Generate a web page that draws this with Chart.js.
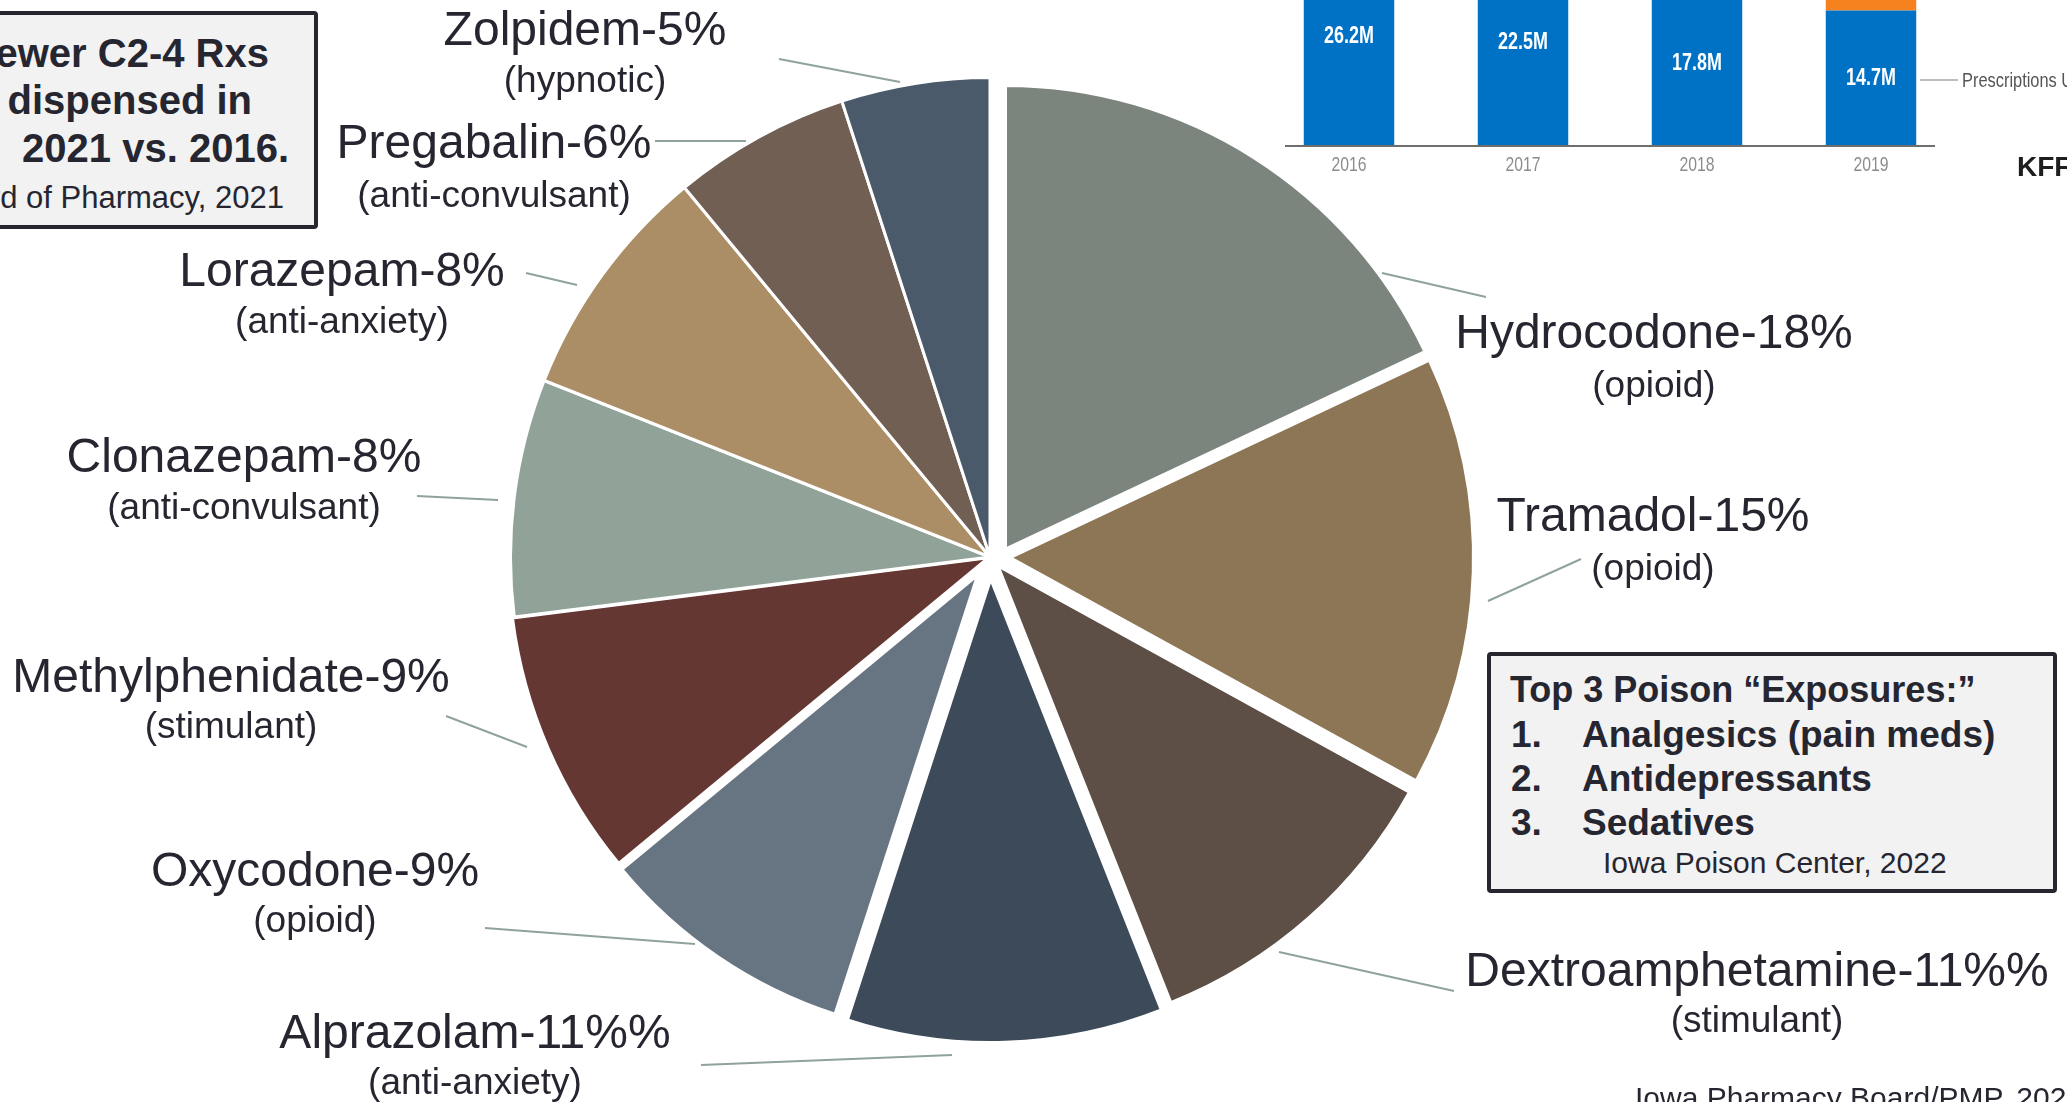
<!DOCTYPE html>
<html>
<head>
<meta charset="utf-8">
<script src="https://cdn.jsdelivr.net/npm/chart.js@4.4.1/dist/chart.umd.min.js"></script>
<style>
  html, body { margin: 0; padding: 0; }
  body {
    width: 2067px; height: 1102px; overflow: hidden; position: relative;
    background: #ffffff; color: #262631;
    font-family: "Liberation Sans", Arial, sans-serif;
  }
  .abs { position: absolute; white-space: nowrap; line-height: 1; }
  #pieWrap { position: absolute; left: 0; top: 0; width: 2067px; height: 1102px; }
  #barWrap { position: absolute; left: 1262px; top: -72px; width: 696px; height: 258px; }
  .pname { font-size: 48px; transform: translateX(-50%); }
  .psub { font-size: 37px; transform: translateX(-50%); }
  .box {
    position: absolute; box-sizing: border-box; background: #f2f2f2;
    border: 4px solid #26262e; border-radius: 4px;
  }
  .b40 { font-size: 40px; font-weight: bold; }
  .b37 { font-size: 37px; font-weight: bold; }
  .cond { transform: scaleX(0.82); transform-origin: left center; }
</style>
</head>
<body>

<div id="pieWrap"><canvas id="pie"></canvas></div>
<div id="barWrap"><canvas id="bars"></canvas></div>

<!-- left note box (cut by the page edge) -->
<div class="box" style="left:-200px; top:11px; width:518px; height:218px;">
  <div class="abs b40" style="right:45px; top:18px;">Fewer C2-4 Rxs</div>
  <div class="abs b40" style="right:62px; top:65px;">dispensed in</div>
  <div class="abs b40" style="right:25px; top:113px;">2021 vs. 2016.</div>
  <div class="abs" style="right:30px; top:167px; font-size:31px;">Iowa Board of Pharmacy, 2021</div>
</div>

<!-- poison box -->
<div class="box" style="left:1487px; top:652px; width:570px; height:241px;">
  <div class="abs" style="left:19px; top:16px; font-size:36px; font-weight:bold;">Top 3 Poison “Exposures:”</div>
  <div class="abs b37" style="left:20px; top:60px;">1.</div>
  <div class="abs b37" style="left:91px; top:60px;">Analgesics (pain meds)</div>
  <div class="abs b37" style="left:20px; top:104px;">2.</div>
  <div class="abs b37" style="left:91px; top:104px;">Antidepressants</div>
  <div class="abs b37" style="left:20px; top:148px;">3.</div>
  <div class="abs b37" style="left:91px; top:148px;">Sedatives</div>
  <div class="abs" style="left:112px; top:192px; font-size:30px;">Iowa Poison Center, 2022</div>
</div>

<!-- bar chart side notes -->
<div class="abs" style="left:1920px; top:79px; width:38px; height:2px; background:#bdbdbd;"></div>
<div class="abs cond" style="left:1962px; top:70px; font-size:20px; color:#555555;">Prescriptions Used</div>
<div class="abs" style="left:2017px; top:153px; font-size:28px; font-weight:bold; color:#1e1e1e;">KFF</div>

<div class="abs" style="left:1635px; top:1083px; font-size:30px;">Iowa Pharmacy Board/PMP, 2021</div>

<script>
// ---- pie data ----
const drugs = ['Hydrocodone', 'Tramadol', 'Dextroamphetamine', 'Alprazolam', 'Oxycodone',
               'Methylphenidate', 'Clonazepam', 'Lorazepam', 'Pregabalin', 'Zolpidem'];
const shares = [18, 15, 11, 11, 9, 9, 8, 8, 6, 5];
const labelTexts = ['Hydrocodone-18%', 'Tramadol-15%', 'Dextroamphetamine-11%%', 'Alprazolam-11%%',
                    'Oxycodone-9%', 'Methylphenidate-9%', 'Clonazepam-8%', 'Lorazepam-8%',
                    'Pregabalin-6%', 'Zolpidem-5%'];
const drugClasses = ['opioid', 'opioid', 'stimulant', 'anti-anxiety', 'opioid',
                     'stimulant', 'anti-convulsant', 'anti-anxiety', 'anti-convulsant', 'hypnotic'];

// ---- bar data (KFF inset) ----
const years = ['2016', '2017', '2018', '2019'];
const rxUsed = [26.2, 22.5, 17.8, 14.7];
const rxOther = [null, null, null, 2.0];

// ---- styling / layout ----
const sliceColors = ['#7b847d', '#8c7655', '#5d4f45', '#3d4a59', '#677482',
                     '#643732', '#91a298', '#ab8e66', '#725f54', '#4b5a6a'];
const sliceDX = [15.5, 20, 8, 0.7, -12.4, -1.8, 0, 0, 0, 0];   // explode shift, px
const sliceDY = [-8, 0.6, 9, 22, 18.2, 0.8, 0, 0, 0, 0];
const sliceTrim = [16, 16, 10, 16, 18, 0, 0, 0, 0, 0];        // radius reduction, px
// [centre x, name centre y, class centre y]
const labelPos = [[1654, 332, 384], [1653, 515, 567], [1757, 970, 1019], [475, 1032, 1081],
                  [315, 870, 919], [231, 676, 725], [244, 456, 506], [342, 270, 320],
                  [494, 142, 194], [585, 29, 79]];
const leaders = [[1382, 273, 1486, 297], [1488, 601, 1581, 559], [1279, 952, 1454, 991],
                 [701, 1065, 952, 1055], [485, 928, 695, 944], [446, 716, 527, 747],
                 [417, 496, 498, 500], [526, 273, 577, 285], [655, 141, 746, 141],
                 [779, 59, 900, 82]];

// labels as real text
labelTexts.forEach((t, i) => {
  const [cx, ny, sy] = labelPos[i];
  const n = document.createElement('div');
  n.className = 'abs pname';
  n.style.left = cx + 'px';
  n.style.top = Math.round(ny - 0.49 * 48) + 'px';
  n.textContent = t;
  document.body.appendChild(n);
  const s = document.createElement('div');
  s.className = 'abs psub';
  s.style.left = cx + 'px';
  s.style.top = Math.round(sy - 0.49 * 37) + 'px';
  s.textContent = '(' + drugClasses[i] + ')';
  document.body.appendChild(s);
});

const explodePlugin = {
  id: 'explode',
  afterDatasetsUpdate(chart) {
    const meta = chart.getDatasetMeta(0);
    meta.data.forEach((arc, i) => {
      arc.x += sliceDX[i];
      arc.y += sliceDY[i];
      arc.outerRadius -= sliceTrim[i];
    });
  }
};

const leaderPlugin = {
  id: 'leaders',
  afterDatasetsDraw(chart) {
    const ctx = chart.ctx;
    ctx.save();
    ctx.strokeStyle = '#8fa39a';
    ctx.lineWidth = 2;
    leaders.forEach(l => {
      ctx.beginPath();
      ctx.moveTo(l[0], l[1]);
      ctx.lineTo(l[2], l[3]);
      ctx.stroke();
    });
    ctx.restore();
  }
};

new Chart(document.getElementById('pie'), {
  type: 'pie',
  data: {
    labels: drugs,
    datasets: [{
      data: shares,
      backgroundColor: sliceColors,
      borderColor: '#ffffff',
      borderWidth: 3
    }]
  },
  options: {
    responsive: true,
    maintainAspectRatio: false,
    animation: false,
    events: [],
    radius: 479.5,
    layout: { padding: { left: 0, right: 87, top: 12, bottom: 0 } },
    plugins: { legend: { display: false }, tooltip: { enabled: false } }
  },
  plugins: [explodePlugin, leaderPlugin]
});

// draw text squeezed horizontally, like the narrow font of the inset
function condensedText(ctx, text, x, y, sx) {
  ctx.save();
  ctx.translate(x, y);
  ctx.scale(sx, 1);
  ctx.fillText(text, 0, 0);
  ctx.restore();
}

const barLabelPlugin = {
  id: 'barLabels',
  afterDatasetsDraw(chart) {
    const ctx = chart.ctx;
    const area = chart.chartArea;
    const base = chart.scales.y.getPixelForValue(0);
    ctx.save();
    ctx.strokeStyle = '#6e6e6e';
    ctx.lineWidth = 2;
    ctx.beginPath();
    ctx.moveTo(23, base);
    ctx.lineTo(673, base);
    ctx.stroke();
    ctx.textAlign = 'center';
    ctx.textBaseline = 'middle';
    // value labels, centred in the visible part of each blue bar
    ctx.fillStyle = '#ffffff';
    ctx.font = 'bold 23px "Liberation Sans", Arial, sans-serif';
    chart.getDatasetMeta(0).data.forEach((bar, i) => {
      const top = Math.max(bar.y, area.top);
      condensedText(ctx, rxUsed[i].toFixed(1) + 'M', bar.x, (top + bar.base) / 2, 0.78);
    });
    // year labels under the axis
    ctx.fillStyle = '#8c8c8c';
    ctx.font = '21px "Liberation Sans", Arial, sans-serif';
    years.forEach((yr, i) => {
      condensedText(ctx, yr, chart.scales.x.getPixelForValue(i), base + 19, 0.75);
    });
    ctx.restore();
  }
};

new Chart(document.getElementById('bars'), {
  type: 'bar',
  data: {
    labels: years,
    datasets: [
      { label: 'Prescriptions Used', data: rxUsed, backgroundColor: '#0072c6',
        barPercentage: 0.52, categoryPercentage: 1 },
      { label: 'Other', data: rxOther, backgroundColor: '#f5821f',
        barPercentage: 0.52, categoryPercentage: 1 }
    ]
  },
  options: {
    responsive: true,
    maintainAspectRatio: false,
    animation: false,
    events: [],
    layout: { padding: { left: 0, right: 0, top: 0, bottom: 40 } },
    scales: {
      x: { stacked: true, display: false },
      y: { stacked: true, display: false, min: 0, max: 23.64 }
    },
    plugins: { legend: { display: false }, tooltip: { enabled: false } }
  },
  plugins: [barLabelPlugin]
});
</script>
</body>
</html>
